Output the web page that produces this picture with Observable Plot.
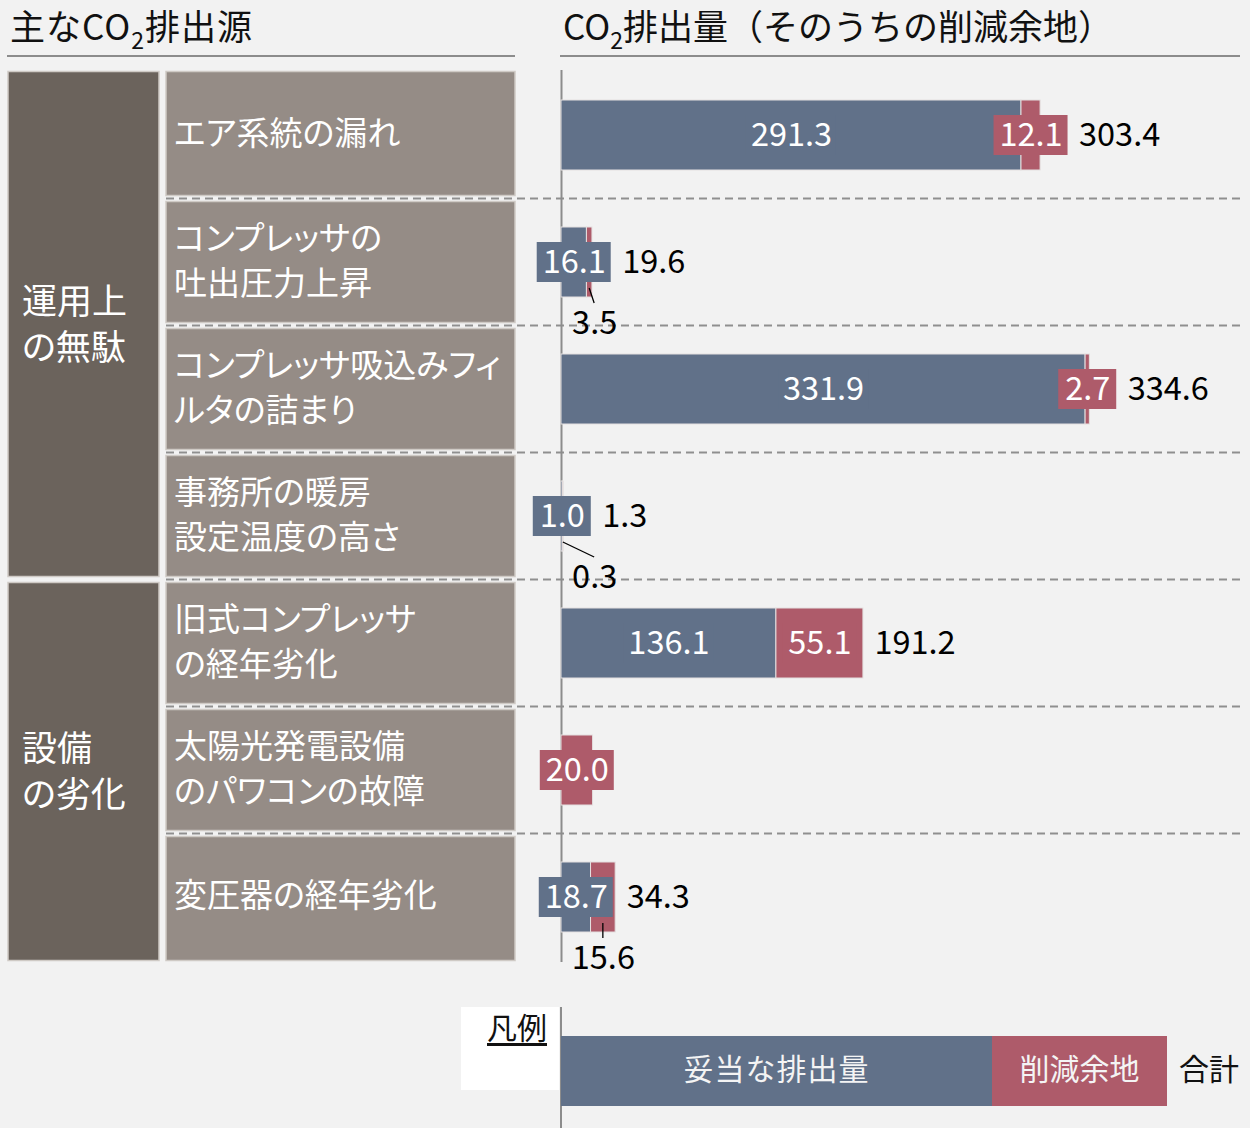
<!DOCTYPE html>
<html><head><meta charset="utf-8">
<script src="https://cdn.jsdelivr.net/npm/d3@7"></script>
<script src="https://cdn.jsdelivr.net/npm/@observablehq/plot@0.6"></script>
<style>
html,body{margin:0;padding:0;background:#f2f2f2;}
body{font-family:"Noto Sans CJK JP","Noto Sans",sans-serif;}
#page{position:relative;width:1250px;height:1128px;overflow:hidden;}
.hd{position:absolute;font-size:35px;line-height:35px;color:#111;white-space:nowrap;}
.hd sub{font-size:23px;vertical-align:-9px;line-height:0;}
.uline{position:absolute;height:2px;background:#8c8c8c;}
#chart{position:absolute;left:0;top:60px;}
.lg{position:absolute;}
</style></head>
<body><div id="page">
<div class="hd" style="left:10px;top:7px;letter-spacing:1px;">主なCO<sub>2</sub>排出源</div>
<div class="uline" style="left:7px;top:55px;width:508px;"></div>
<div class="hd" style="left:563px;top:7px;">CO<sub>2</sub>排出量（そのうちの削減余地）</div>
<div class="uline" style="left:560px;top:55px;width:680px;"></div>
<div id="chart"></div>
<div id="legend"></div>
</div>
<script>
// ---- data ----
const categories = [
  "エア系統の漏れ",
  "コンプレッサの\n吐出圧力上昇",
  "コンプレッサ吸込みフィ\nルタの詰まり",
  "事務所の暖房\n設定温度の高さ",
  "旧式コンプレッサ\nの経年劣化",
  "太陽光発電設備\nのパワコンの故障",
  "変圧器の経年劣化"
];
const groups = ["運用上\nの無駄", "設備\nの劣化"];
const groupOfCategory = [0, 0, 0, 0, 1, 1, 1];
const validEmissions = [291.3, 16.1, 331.9, 1.0, 136.1, 0, 18.7];
const reducible = [12.1, 3.5, 2.7, 0.3, 55.1, 20.0, 15.6];
const totals = [303.4, 19.6, 334.6, 1.3, 191.2, 20.0, 34.3];
const legendLabels = ["妥当な排出量", "削減余地", "合計"];
const legendTitle = "凡例";

// ---- style ----
const BLUE = "#617189", RED = "#ae5b6a";
const DARK = "#6b635c", LIGHT = "#958c86";
const FONT = "'Noto Sans CJK JP','Noto Sans',sans-serif";
const W = 1250, ML = 561, MR = 10, MT = 10, MB = 30, FRAME_H = 892;
const XMAX = 430;
const NUM = 32.5;
const k = (W - ML - MR) / XMAX; // px per unit
const boxHalf = s => (16 * s.length + 10) / 2 / k;

const rows = categories.map((c, i) => ({
  cat: c, valid: validEmissions[i], red: reducible[i], total: totals[i]
}));
const segs = [];
rows.forEach(r => {
  if (r.valid > 0) segs.push({cat: r.cat, part: "valid", x1: 0, x2: r.valid});
  if (r.red > 0) segs.push({cat: r.cat, part: "red", x1: r.valid, x2: r.valid + r.red});
});
const isBelow = r => r.valid > 0 && r.valid + r.red < 40;
const inLabels = [], belowLabels = [], totalLabels = [];
rows.forEach(r => {
  let right = r.valid + r.red;
  if (r.valid > 0) {
    const t = r.valid.toFixed(1), mid = r.valid / 2, hw = boxHalf(t);
    inLabels.push({cat: r.cat, part: "valid", text: t, mid, hw});
    right = Math.max(right, mid + hw);
  }
  if (r.red > 0) {
    const t = r.red.toFixed(1), mid = r.valid + r.red / 2;
    if (isBelow(r)) {
      belowLabels.push({cat: r.cat, text: t, mid, lx: Math.max(mid, 21)});
    } else {
      const hw = boxHalf(t);
      inLabels.push({cat: r.cat, part: "red", text: t, mid, hw});
      right = Math.max(right, mid + hw);
    }
  }
  if (r.valid > 0 && r.red > 0) totalLabels.push({cat: r.cat, text: r.total.toFixed(1), tx: right});
});

function rowGeom(y, c) {
  const bw = y.bandwidth(), step = y.step();
  const mid = y(c) + bw / 2;
  return {mid, top: mid - step / 2, bottom: mid + step / 2};
}

function leftColumn(index, scales) {
  const y = scales.y;
  const g = d3.create("svg:g").attr("font-family", FONT).attr("text-anchor", "start")
    .style("font-feature-settings", '"palt" 1');
  const n = categories.length;
  groups.forEach((gname, gi) => {
    const idx = groupOfCategory.map((v, i) => v === gi ? i : -1).filter(i => i >= 0);
    const first = idx[0], last = idx[idx.length - 1];
    const top = rowGeom(y, categories[first]).top + (first > 0 ? 3 : 0);
    const bottom = rowGeom(y, categories[last]).bottom - (last < n - 1 ? 3 : 0);
    g.append("rect").attr("x", 8).attr("y", top).attr("width", 151).attr("height", bottom - top)
      .attr("fill", DARK).attr("stroke", "#cfcac5").attr("stroke-width", 1.5);
    const lines = gname.split("\n");
    const cy = (top + bottom) / 2 - 3;
    const t = g.append("text").attr("fill", "white").attr("font-size", 35).attr("text-anchor", "start");
    lines.forEach((l, li) => t.append("tspan").attr("x", 22)
      .attr("y", cy + (li - (lines.length - 1) / 2) * 46).attr("dominant-baseline", "central").text(l));
  });
  categories.forEach((c, i) => {
    const r = rowGeom(y, c);
    const top = r.top + (i > 0 ? 3 : 0), bottom = r.bottom - (i < n - 1 ? 3 : 0);
    g.append("rect").attr("x", 166).attr("y", top).attr("width", 349).attr("height", bottom - top)
      .attr("fill", LIGHT).attr("stroke", "#cfcac5").attr("stroke-width", 1.5);
    const lines = c.split("\n");
    const t = g.append("text").attr("fill", "white").attr("font-size", 33).attr("text-anchor", "start");
    lines.forEach((l, li) => t.append("tspan").attr("x", 174)
      .attr("y", r.mid - 4 + (li - (lines.length - 1) / 2) * 45).attr("dominant-baseline", "central").text(l));
  });
  return g.node();
}

function separators(index, scales, values, dims) {
  const y = scales.y;
  const g = d3.create("svg:g");
  categories.slice(0, -1).forEach(c => {
    const yy = rowGeom(y, c).bottom;
    g.append("line").attr("x1", 166).attr("x2", dims.width - MR).attr("y1", yy).attr("y2", yy)
      .attr("stroke", "#8f8f8f").attr("stroke-width", 2).attr("stroke-dasharray", "8,5");
  });
  return g.node();
}

function leaders(index, scales) {
  const y = scales.y, x = scales.x;
  const g = d3.create("svg:g");
  belowLabels.forEach(d => {
    const r = rowGeom(y, d.cat);
    g.append("line").attr("x1", x(d.mid)).attr("y1", r.mid + 26)
      .attr("x2", x(d.lx)).attr("y2", r.mid + 41)
      .attr("stroke", "black").attr("stroke-width", 1.3);
  });
  return g.node();
}

const chart = Plot.plot({
  width: W, height: MT + FRAME_H + MB,
  marginLeft: ML, marginRight: MR, marginTop: MT, marginBottom: MB,
  x: {domain: [0, XMAX], axis: null},
  y: {domain: categories, axis: null, paddingInner: 0.45, paddingOuter: 0.225},
  color: {domain: ["valid", "red"], range: [BLUE, RED]},
  style: {background: "transparent", fontFamily: FONT, overflow: "visible"},
  marks: [
    leftColumn,
    separators,
    Plot.ruleX([0], {stroke: "#8c8c8c", strokeWidth: 2}),
    Plot.barX(segs, {x1: "x1", x2: "x2", y: "cat", fill: "part", stroke: "#e4e0e0", strokeWidth: 1}),
    Plot.barX(inLabels, {x1: d => d.mid - d.hw, x2: d => d.mid + d.hw, y: "cat", fill: "part", insetTop: 15, insetBottom: 15}),
    Plot.text(inLabels, {x: "mid", y: "cat", text: "text", fill: "white", fontSize: NUM}),
    leaders,
    Plot.text(belowLabels, {x: "lx", y: "cat", dy: 61, text: "text", fill: "black", fontSize: NUM}),
    Plot.text(totalLabels, {x: "tx", y: "cat", dx: 11, text: "text", textAnchor: "start", fill: "black", fontSize: NUM})
  ]
});
document.getElementById("chart").appendChild(chart);

// ---- legend ----
const lg = d3.select("#legend");
lg.append("div").attr("class", "lg").style("left", "461px").style("top", "1007px")
  .style("width", "98px").style("height", "83px").style("background", "white");
lg.append("div").attr("class", "lg").style("left", "461px").style("top", "1008px")
  .style("width", "86px").style("text-align", "right").style("font-size", "30px").style("line-height", "36px")
  .style("text-decoration", "underline").style("text-underline-offset", "4px").style("color", "#111").text(legendTitle);
lg.append("div").attr("class", "lg").style("left", "560px").style("top", "1007px")
  .style("width", "2px").style("height", "121px").style("background", "#8c8c8c");
lg.append("div").attr("class", "lg").style("left", "561px").style("top", "1036px")
  .style("width", "431px").style("height", "70px").style("background", BLUE)
  .style("color", "#f4f4f4").style("font-size", "30px").style("line-height", "62px").style("text-align", "center")
  .style("letter-spacing", "1px").text(legendLabels[0]);
lg.append("div").attr("class", "lg").style("left", "992px").style("top", "1036px")
  .style("width", "175px").style("height", "70px").style("background", RED)
  .style("color", "#f4f4f4").style("font-size", "30px").style("line-height", "62px").style("text-align", "center")
  .text(legendLabels[1]);
lg.append("div").attr("class", "lg").style("left", "1179px").style("top", "1036px")
  .style("height", "70px").style("font-size", "30px").style("line-height", "62px").style("color", "#111")
  .text(legendLabels[2]);
</script>
</body></html>
